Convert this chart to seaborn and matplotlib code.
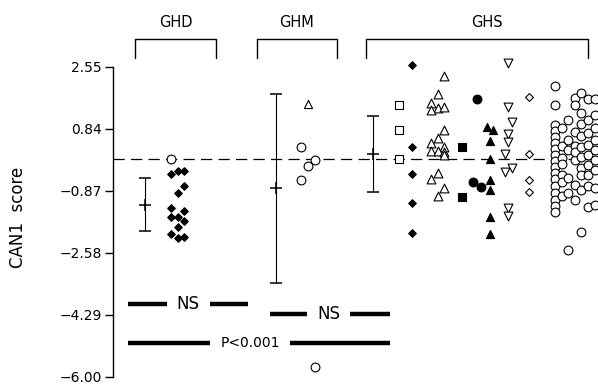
import numpy as np
import pandas as pd
import matplotlib
matplotlib.use("Agg")
import matplotlib.pyplot as plt
import seaborn as sns

# ---------------- data (CAN1 scores) ----------------
groups = ["GHD", "GHM", "GHS"]
group_mean = [-1.25, -0.80, 0.15]
group_sd = [0.73, 2.60, 1.04]

# GHD
ghd_circle_open = [0.00]
ghd_diamond_filled = [-0.41, -0.32, -0.32, -0.72, -0.92, -1.35, -1.41,
                      -1.59, -1.59, -1.71, -1.87, -2.06, -2.16, -2.13]
ghd_diamond_lane = [0, 1, 2, 2, 1, 0, 2, 0, 1, 2, 1, 0, 1, 2]

# GHM
ghm_triangle_open = [1.52]
ghm_circle_open = [0.34, -0.01, -0.18, -0.57, -5.73]
ghm_circle_lane = [0, 2, 1, 0, 2]

# GHS
ghs_square_open = [1.50, 0.81, 0.00]
ghs_diamond_filled = [2.61, 0.33, -0.41, -1.19, -2.04]
ghs_triangle_open = [2.31, 1.80, 1.57, 1.41, 1.44, 1.37, 0.81, 0.58, 0.45,
                     0.35, 0.24, 0.24, 0.20, 0.13, -0.38, -0.54, -0.78, -1.00]
ghs_triangle_lane = [2, 1, 0, 1, 2, 0, 2, 1, 0, 2, 0, 1, 2, 2, 1, 0, 2, 1]
ghs_square_filled = [0.35, -1.04]
ghs_circle_filled = [1.67, -0.63, -0.75]
ghs_circle_filled_lane = [1, 0, 2]
ghs_triangle_filled = [0.90, 0.81, 0.52, 0.01, -0.58, -0.84, -1.60, -2.05]
ghs_triangle_filled_lane = [0, 2, 1, 1, 1, 1, 1, 1]
ghs_invtri_open = [2.65, 1.46, 1.04, 0.70, 0.49, 0.15, -0.34, -0.24, -1.35, -1.56]
ghs_invtri_lane = [1, 1, 2, 1, 1, 0, 0, 2, 1, 1]
ghs_diamond_open = [1.73, 0.15, -0.57, -0.90]
ghs_circle_open = [
    2.03, 1.50, 0.95, 0.79, 0.62, 0.45, 0.29, 0.12, -0.04, -0.21, -0.37, -0.54,
    -0.73, -0.92, -1.12, -1.28, -1.45,
    0.87, 0.37, 0.04, -0.12, -0.43, -1.01, -0.62,
    1.09, 0.54, 0.26, -0.51, -0.92, -2.50,
    1.70, 1.50, 0.76, 0.37, -0.01, -0.70, -1.12, 0.20,
    1.83, 1.28, 0.98, 0.65, 0.34, 0.07, -0.23, -0.43, -0.84, -1.99,
    1.67, 1.09, 0.73, 0.40, 0.12, -0.15, -0.43, -0.73, -1.31,
    1.67, 1.23, 0.87, 0.54, 0.26, -0.01, -0.29, -0.78, -1.25,
]
ghs_circle_open_lane = ([0] * 17 + [1] * 7 + [2] * 6 + [3] * 8 + [4] * 10
                        + [5] * 9 + [6] * 9)

ytick_values = [2.55, 0.84, -0.87, -2.58, -4.29, -6.00]
sig_labels = ["NS", "NS", "P<0.001"]

# ---------------- layout (x axis in column units) ----------------
mean_x = [145, 275.7, 372.7]
series = [
    # values, lanes, base x, lane step, marker, filled, size
    (ghd_circle_open, [0], 171, 6.5, "o", False, 40),
    (ghd_diamond_filled, ghd_diamond_lane, 171, 6.6, "D", True, 15),
    (ghm_triangle_open, [0], 308, 6.5, "^", False, 34),
    (ghm_circle_open, ghm_circle_lane, 301, 7.0, "o", False, 40),
    (ghs_square_open, [0, 0, 0], 399, 6.5, "s", False, 34),
    (ghs_diamond_filled, [0] * 5, 411.7, 6.5, "D", True, 15),
    (ghs_triangle_open, ghs_triangle_lane, 431, 6.6, "^", False, 40),
    (ghs_square_filled, [0, 0], 462.3, 6.5, "s", True, 34),
    (ghs_circle_filled, ghs_circle_filled_lane, 473.3, 3.8, "o", True, 40),
    (ghs_triangle_filled, ghs_triangle_filled_lane, 487.3, 3.0, "^", True, 34),
    (ghs_invtri_open, ghs_invtri_lane, 505, 3.4, "v", False, 40),
    (ghs_diamond_open, [0] * 4, 529, 6.5, "D", False, 16),
    (ghs_circle_open, ghs_circle_open_lane, 555, 6.6, "o", False, 40),
]

sns.set_style("ticks")
plt.rcParams["font.family"] = ["DejaVu Sans"]
plt.rcParams.update({"text.color": "black", "axes.labelcolor": "black",
                     "xtick.color": "black", "ytick.color": "black",
                     "axes.edgecolor": "black"})

fig = plt.figure(figsize=(5.98, 3.87), dpi=100)
ax = fig.add_axes([113 / 598, 10 / 387, 1 - 113 / 598, 310 / 387])
ax.set_xlim(113, 598)
ax.set_ylim(-6.0, 2.55)

ax.axhline(0, color="black", lw=0.9, dashes=(9, 5), zorder=1)

for vals, lanes, base, step, mk, filled, size in series:
    df = pd.DataFrame({"x": [base + l * step for l in lanes], "y": vals})
    sns.scatterplot(data=df, x="x", y="y", marker=mk, s=size, ax=ax,
                    color="black" if filled else "white", edgecolor="black",
                    linewidth=0.8, zorder=3, clip_on=False, legend=False)

ax.errorbar(mean_x, group_mean, yerr=group_sd, fmt="+", color="black",
            ms=9, mew=1.1, lw=0.8, capsize=4, capthick=0.8, zorder=2)

# group brackets above the plot
brackets = [(135, 216), (256.7, 336.7), (366, 588.3)]
label_x = [175.5, 296.7, 486.7]
for (x0, x1), lx, name in zip(brackets, label_x, groups):
    ax.plot([x0, x0, x1, x1], [2.80, 3.32, 3.32, 2.80], color="black",
            lw=1.0, clip_on=False)
    ax.text(lx, 3.77, name, ha="center", va="center", fontsize=10.5)

# significance bars: (left bar x0, x1), (right bar x0, x1), text x, y, fontsize
sig_rows = [
    ((128, 167), (210, 248), 188, -3.99, 12),
    ((270, 307), (350, 390), 329, -4.27, 12),
    ((128, 210), (290, 390), 250, -5.07, 10),
]
for (l, r, tx, yv, fs), lab in zip(sig_rows, sig_labels):
    ax.plot(list(l), [yv, yv], color="black", lw=3.2, solid_capstyle="butt")
    ax.plot(list(r), [yv, yv], color="black", lw=3.2, solid_capstyle="butt")
    ax.text(tx, yv, lab, ha="center", va="center", fontsize=fs)

ax.set_yticks(ytick_values)
ax.set_yticklabels([f"{v:.2f}".replace("-", "\u2212") for v in ytick_values])
ax.tick_params(axis="y", direction="out", length=6, width=1, labelsize=10,
               pad=2)
ax.set_xticks([])
ax.set_xlabel("")
ax.set_ylabel("CAN1  score", fontsize=12)
ax.yaxis.set_label_coords(-0.177, 0.516)
sns.despine(ax=ax, top=True, right=True, bottom=True)
ax.spines["left"].set_linewidth(1.0)

fig.savefig("out.png", dpi=100)
